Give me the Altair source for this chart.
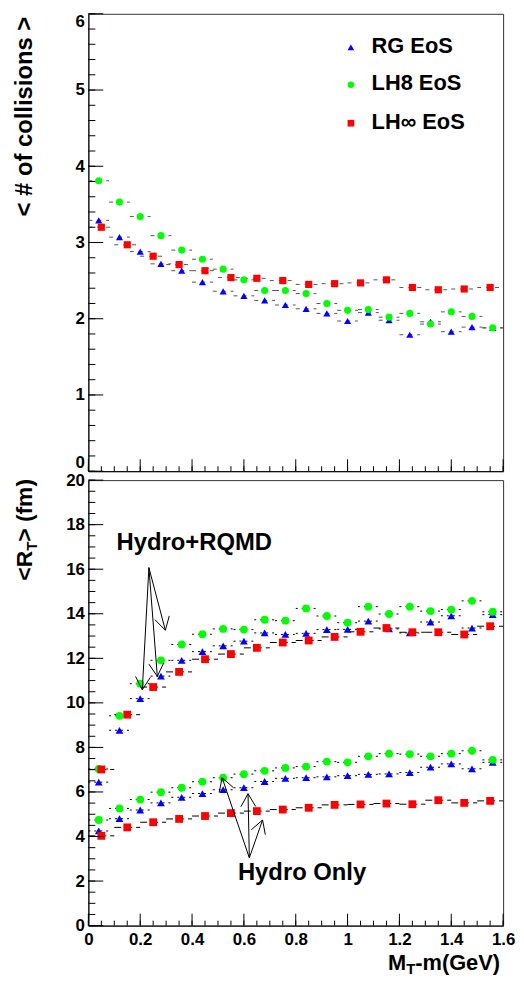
import math
import pandas as pd
import altair as alt

FONT = "Liberation Sans"

# ---------------- data ----------------
x_bins_08 = [0.04, 0.12, 0.20, 0.28, 0.36, 0.44, 0.52, 0.60, 0.68, 0.76,
             0.84, 0.92, 1.00, 1.08, 1.16, 1.24, 1.32, 1.40, 1.48, 1.56]
x_bins_10 = [0.05, 0.15, 0.25, 0.35, 0.45, 0.55, 0.65, 0.75,
             0.85, 0.95, 1.05, 1.15, 1.25, 1.35, 1.45, 1.55]
half_08 = 0.04
half_10 = 0.05

series_names = ["RG EoS", "LH8 EoS", "LH\u221e EoS"]
series_colors = ["#0000ff", "#00ff00", "#ff0000"]
series_shapes = ["triangle-up", "circle", "square"]

# top panel: < # of collisions >
coll_rg = [3.29, 3.07, 2.88, 2.72, 2.63, 2.48, 2.36, 2.30, 2.24, 2.18,
           2.13, 2.07, 1.97, 2.08, 1.98, 1.79, 1.96, 1.83, 1.89, 1.88]
coll_lh8 = [3.81, 3.53, 3.34, 3.09, 2.90, 2.78, 2.65, 2.51, 2.37, 2.37,
            2.33, 2.20, 2.11, 2.12, 2.02, 2.07, 1.93, 2.09, 2.03, 1.88]
coll_lhinf = [3.20, 2.97, 2.82, 2.71, 2.63, 2.54, 2.53, 2.50,
              2.45, 2.46, 2.47, 2.51, 2.41, 2.38, 2.39, 2.41]

# bottom panel: <R_T> (fm), Hydro+RQMD
rt_hr_rg = [6.44, 8.77, 10.19, 11.20, 11.91, 12.30, 12.56, 12.77, 13.14, 13.07,
            13.12, 13.29, 13.30, 13.67, 13.32, 13.14, 13.63, 13.91, 13.36, 13.96]
rt_hr_lh8 = [7.03, 9.42, 10.86, 11.91, 12.62, 13.08, 13.32, 13.29, 13.73, 13.69,
             14.24, 13.90, 13.60, 14.32, 13.99, 14.32, 14.12, 14.19, 14.58, 14.09]
rt_hr_lhinf = [7.01, 9.47, 10.71, 11.39, 11.96, 12.19, 12.47, 12.71,
               12.80, 12.96, 13.19, 13.36, 13.17, 13.17, 13.07, 13.44]
# Hydro only
rt_ho_rg = [4.25, 4.80, 5.19, 5.51, 5.76, 5.93, 6.10, 6.19, 6.47, 6.61,
            6.64, 6.68, 6.73, 6.79, 6.81, 6.87, 7.11, 7.26, 7.04, 7.33]
rt_ho_lh8 = [4.74, 5.26, 5.66, 5.99, 6.19, 6.46, 6.64, 6.80, 6.95, 7.08,
             7.14, 7.36, 7.33, 7.60, 7.72, 7.70, 7.60, 7.72, 7.85, 7.44]
rt_ho_lhinf = [4.03, 4.41, 4.64, 4.79, 4.92, 5.05, 5.14, 5.21,
               5.29, 5.42, 5.44, 5.48, 5.45, 5.63, 5.51, 5.60]

# annotations (data coordinates of bottom panel)
rqmd_label = ("Hydro+RQMD", 0.109, 16.86)
only_label = ("Hydro Only", 0.577, 2.07)
rqmd_arrow_origin = (0.2335, 16.07)
rqmd_arrow_tips = [(0.208, 10.59), (0.266, 11.19), (0.297, 13.26)]
only_arrow_origin = (0.621, 3.04)
only_arrow_tips = [(0.516, 6.64), (0.616, 5.92), (0.672, 4.74)]

# tick positions
x_major = [0, 0.2, 0.4, 0.6, 0.8, 1.0, 1.2, 1.4, 1.6]
x_minor = [round(i * 0.05, 2) for i in range(33)]
y_top_major = [0, 1, 2, 3, 4, 5, 6]
y_top_minor = [round(i * 0.2, 1) for i in range(31)]
y_bot_major = [0, 2, 4, 6, 8, 10, 12, 14, 16, 18, 20]
y_bot_minor = [i * 0.5 for i in range(41)]

# ---------------- layout ----------------
W = 418
H1 = 461
H2 = 449
SX = W / 1.6
SY2 = H2 / 20.0
TITLE_X = -57


def long_df(xs, ys, name, hw, group=""):
    return pd.DataFrame({
        "x": xs, "y": ys,
        "x0": [v - hw for v in xs], "x1": [v + hw for v in xs],
        "series": name, "group": group,
    })


df_top = pd.concat([
    long_df(x_bins_08, coll_rg, series_names[0], half_08),
    long_df(x_bins_08, coll_lh8, series_names[1], half_08),
    long_df(x_bins_10, coll_lhinf, series_names[2], half_10),
], ignore_index=True)

df_bot = pd.concat([
    long_df(x_bins_08, rt_hr_rg, series_names[0], half_08, "Hydro+RQMD"),
    long_df(x_bins_08, rt_hr_lh8, series_names[1], half_08, "Hydro+RQMD"),
    long_df(x_bins_10, rt_hr_lhinf, series_names[2], half_10, "Hydro+RQMD"),
    long_df(x_bins_08, rt_ho_rg, series_names[0], half_08, "Hydro only"),
    long_df(x_bins_08, rt_ho_lh8, series_names[1], half_08, "Hydro only"),
    long_df(x_bins_10, rt_ho_lhinf, series_names[2], half_10, "Hydro only"),
], ignore_index=True)


def arrow_segments(origin, tips, sx, sy, head=15.0, ang=30.0):
    segs = []
    ox, oy = origin
    for (tx, ty) in tips:
        segs.append((ox, oy, tx, ty))
        dx = (tx - ox) * sx
        dy = -(ty - oy) * sy
        L = math.hypot(dx, dy)
        bx, by = -dx / L, -dy / L
        for s in (1, -1):
            a = math.radians(ang) * s
            rx = bx * math.cos(a) - by * math.sin(a)
            ry = bx * math.sin(a) + by * math.cos(a)
            segs.append((tx, ty, tx + rx * head / sx, ty - ry * head / sy))
    return segs


segs = (arrow_segments(rqmd_arrow_origin, rqmd_arrow_tips, SX, SY2)
        + arrow_segments(only_arrow_origin, only_arrow_tips, SX, SY2))
df_arrows = pd.DataFrame(segs, columns=["x", "y", "x2", "y2"])
df_labels = pd.DataFrame({
    "t": [rqmd_label[0], only_label[0]],
    "x": [rqmd_label[1], only_label[1]],
    "y": [rqmd_label[2], only_label[2]],
})

# ---------------- scales / axes ----------------
xsc = alt.Scale(domain=[0, 1.6], nice=False, zero=False)
ysc_top = alt.Scale(domain=[0, 6], nice=False)
ysc_bot = alt.Scale(domain=[0, 20], nice=False)
color_scale = alt.Scale(domain=series_names, range=series_colors)
shape_scale = alt.Scale(domain=series_names, range=series_shapes)

ax_x_top = alt.Axis(labels=False, ticks=False, title=None, grid=False, domain=True)
ax_x_bot = alt.Axis(values=x_major, format="~g", ticks=False, title=None, grid=False,
                    labelPadding=6, labelFlush=False, labelOverlap=False)
ax_y_top = alt.Axis(values=y_top_major, ticks=False, title=None, grid=False,
                    labelPadding=4, labelFlush=False, labelOverlap=False,
                    labelBaseline={"condition": [
                        {"test": "datum.value >= 6", "value": "top"},
                        {"test": "datum.value <= 0", "value": "bottom"}],
                        "value": "middle"})
ax_y_bot = alt.Axis(values=y_bot_major, ticks=False, title=None, grid=False,
                    labelPadding=4, labelFlush=False, labelOverlap=False)


def XT(f):
    return alt.X(f, type="quantitative", scale=xsc, axis=ax_x_top)


def YT(f):
    return alt.Y(f, type="quantitative", scale=ysc_top, axis=ax_y_top)


def XB(f):
    return alt.X(f, type="quantitative", scale=xsc, axis=ax_x_bot)


def YB(f):
    return alt.Y(f, type="quantitative", scale=ysc_bot, axis=ax_y_bot)


def tick_layers(X, Y, xmaj, xmin, ymaj, ymin, h, ylen_maj=15, ylen_min=7,
                xlen_maj=12, xlen_min=5):
    out = []
    out.append(alt.Chart(pd.DataFrame({"v": ymaj})).mark_rule(color="black", strokeWidth=1)
               .encode(y=Y("v"), x=alt.value(0), x2=alt.value(ylen_maj)))
    out.append(alt.Chart(pd.DataFrame({"v": ymin})).mark_rule(color="black", strokeWidth=1)
               .encode(y=Y("v"), x=alt.value(0), x2=alt.value(ylen_min)))
    out.append(alt.Chart(pd.DataFrame({"v": xmaj})).mark_rule(color="black", strokeWidth=1)
               .encode(x=X("v"), y=alt.value(h), y2=alt.value(h - xlen_maj)))
    out.append(alt.Chart(pd.DataFrame({"v": xmin})).mark_rule(color="black", strokeWidth=1)
               .encode(x=X("v"), y=alt.value(h), y2=alt.value(h - xlen_min)))
    return out


def text_piece(t, x, y, size, align="left", angle=0, baseline="alphabetic"):
    kw = dict(font=FONT, fontSize=size, fontWeight="bold", color="black",
              align=align, baseline=baseline)
    if angle:
        kw["angle"] = angle
    return (alt.Chart(pd.DataFrame({"t": [t]})).mark_text(**kw)
            .encode(text="t:N", x=alt.value(x), y=alt.value(y)))


# ---------------- top panel ----------------
top_err = alt.Chart(df_top).mark_rule(color="#555555", strokeWidth=1, strokeDash=[4, 5]).encode(
    x=XT("x0"), x2="x1:Q", y=YT("y"))
top_pts = alt.Chart(df_top).mark_point(filled=True, opacity=1, size=52).encode(
    x=XT("x"), y=YT("y"),
    color=alt.Color("series:N", scale=color_scale, legend=None),
    shape=alt.Shape("series:N", scale=shape_scale, legend=None))

k = H1 / 464.0
kx = W / 421.0
legend_layers = []
for i, (name, col, shp) in enumerate(zip(series_names, series_colors, series_shapes)):
    yy = [34, 72, 111][i] * k
    legend_layers.append(
        alt.Chart(pd.DataFrame({"s": [name]})).mark_point(
            filled=True, opacity=1, size=45, color=col, shape=shp)
        .encode(x=alt.value(266.5 * kx), y=alt.value(yy)))
    legend_layers.append(text_piece(name, 287.5 * kx, yy + 5.5, 22))

top_title = text_piece("< # of collisions >", TITLE_X, 3, 24, align="right", angle=270)

top = alt.layer(
    top_err, top_pts,
    *tick_layers(XT, YT, x_major, x_minor, y_top_major, y_top_minor, H1),
    *legend_layers, top_title,
).properties(width=W, height=H1)

# ---------------- bottom panel ----------------
bot_err = alt.Chart(df_bot).mark_rule(color="black", strokeWidth=1).encode(
    x=XB("x0"), x2="x1:Q", y=YB("y"),
    strokeDash=alt.StrokeDash("series:N", scale=alt.Scale(
        domain=series_names, range=[[2, 4], [2, 4], [7, 4]]), legend=None),
    detail="group:N")
bot_pts = alt.Chart(df_bot).mark_point(filled=True, opacity=1, size=62).encode(
    x=XB("x"), y=YB("y"),
    color=alt.Color("series:N", scale=color_scale, legend=None),
    shape=alt.Shape("series:N", scale=shape_scale, legend=None),
    detail="group:N")
bot_arrows = alt.Chart(df_arrows).mark_rule(color="black", strokeWidth=1).encode(
    x=XB("x"), y=YB("y"), x2="x2:Q", y2="y2:Q")
bot_labels = alt.Chart(df_labels).mark_text(
    font=FONT, fontSize=24, fontWeight="bold", color="black",
    align="left", baseline="alphabetic").encode(x=XB("x"), y=YB("y"), text="t:N")

# y title  <R_T> (fm)
ty0 = 102 * H2 / 452.0
w1 = (0.584 + 0.722) * 23
wT = 0.611 * 15
yt_pieces = [
    text_piece("<R", TITLE_X, ty0, 23, align="left", angle=270),
    text_piece("T", TITLE_X + 5, ty0 - w1, 15, align="left", angle=270),
    text_piece("> (fm)", TITLE_X, ty0 - w1 - wT, 23, align="left", angle=270),
]
# x title  M_T-m(GeV)
wM = 0.833 * 22
wRest = (0.333 + 0.889 + 0.333 + 0.778 + 0.556 + 0.667 + 0.333) * 22
xm = W - 3 - (wM + wT + wRest)
xt_pieces = [
    text_piece("M", xm, H2 + 45, 22),
    text_piece("T", xm + wM, H2 + 49, 15),
    text_piece("-m(GeV)", xm + wM + wT, H2 + 45, 22),
]

bottom = alt.layer(
    bot_err, bot_pts, bot_arrows, bot_labels,
    *tick_layers(XB, YB, x_major, x_minor, y_bot_major, y_bot_minor, H2),
    *yt_pieces, *xt_pieces,
).properties(width=W, height=H2)

chart = alt.vconcat(top, bottom, spacing=9, bounds="flush").properties(
    padding={"left": 4, "top": 0, "right": 0, "bottom": 0}
).configure_view(
    stroke="#333333", strokeWidth=1
).configure_axis(
    labelFont=FONT, labelFontSize=17, labelFontWeight="bold", labelColor="black",
    domainColor="black", domainWidth=1, ticks=False, grid=False,
)

chart.save("out.html", embed_options={"renderer": "svg", "actions": False})
